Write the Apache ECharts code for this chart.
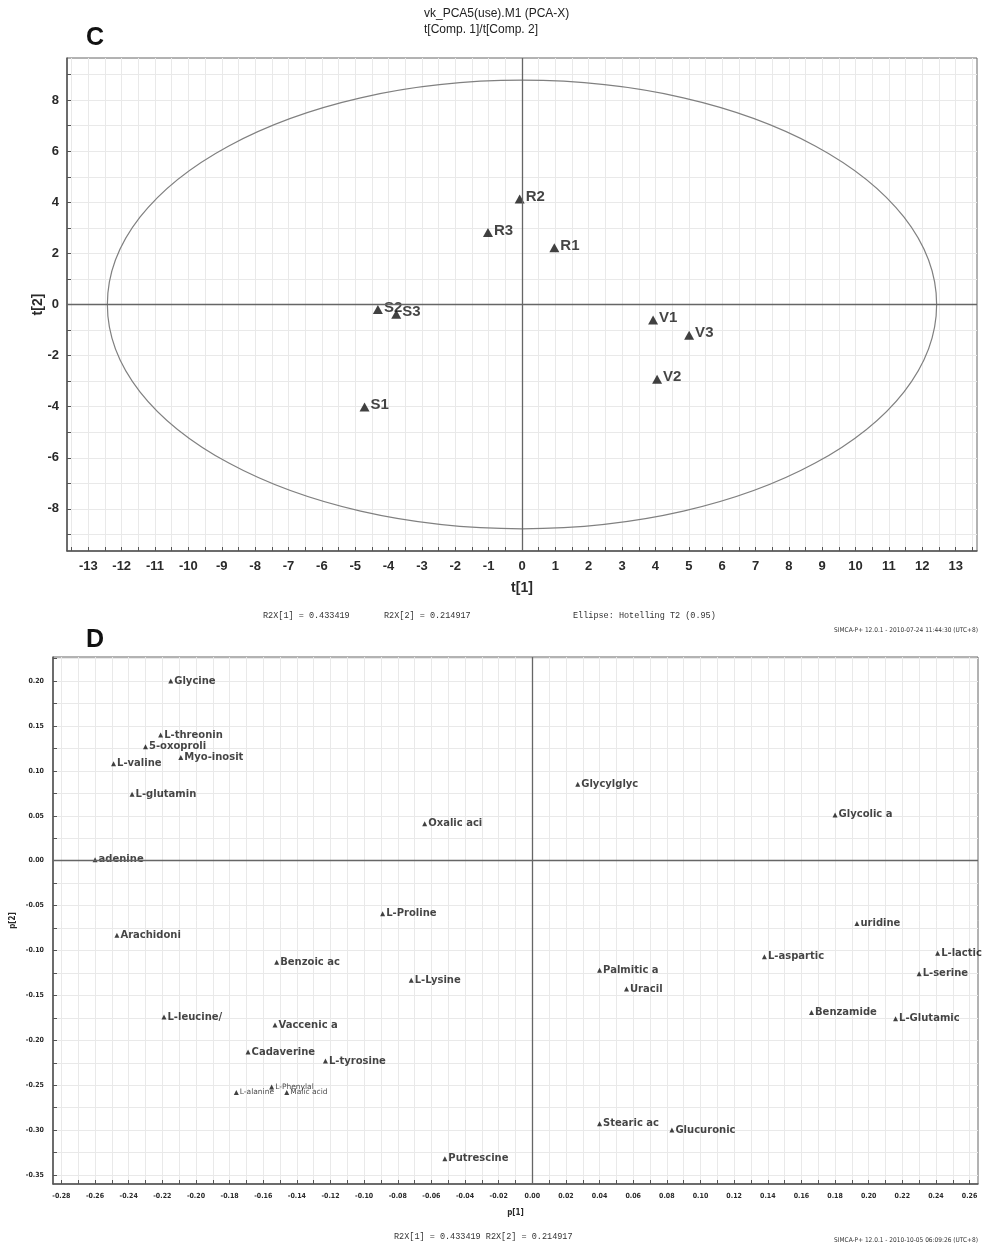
<!DOCTYPE html>
<html>
<head>
<meta charset="utf-8">
<script src="https://cdn.jsdelivr.net/npm/echarts@6/dist/echarts.min.js"></script>
<style>
  html, body { margin: 0; background: #fff; }
  #chart { width: 983px; height: 1250px; }
</style>
</head>
<body>
<div id="chart"></div>
<script>
const chart = echarts.init(document.getElementById("chart"));

// ==========================
// DATA  (C: score plot, D: loading plot)
// ==========================

const SCORE_NAMES = ["R1", "R2", "R3", "S1", "S2", "S3", "V1", "V2", "V3"];
const SCORE_T1 = [0.97, -0.07, -1.02, -4.72, -4.32, -3.77, 3.93, 4.05, 5.01];
const SCORE_T2 = [2.22, 4.13, 2.82, -4.01, -0.20, -0.38, -0.61, -2.93, -1.20];

// Hotelling T2 (0.95) ellipse, semi axes in t[1] / t[2] units
const ELLIPSE_AXES = [12.43, 8.78];

const C_X_LABELS = [-13, -12, -11, -10, -9, -8, -7, -6, -5, -4, -3, -2, -1, 0,
                    1, 2, 3, 4, 5, 6, 7, 8, 9, 10, 11, 12, 13];
const C_Y_LABELS = [-8, -6, -4, -2, 0, 2, 4, 6, 8];

const LOAD_NAMES = [
  "Glycine", "L-threonin", "5-oxoproli", "L-valine", "Myo-inosit", "L-glutamin",
  "adenine", "Oxalic aci", "Glycylglyc", "Glycolic a", "L-Proline", "Arachidoni",
  "uridine", "Benzoic ac", "L-Lysine", "L-aspartic", "L-lactic", "Palmitic a",
  "L-serine", "Uracil", "L-leucine/", "Vaccenic a", "Benzamide", "L-Glutamic",
  "Cadaverine", "L-tyrosine", "L-Phenylal", "L-alanine", "Malic acid",
  "Stearic ac", "Glucuronic", "Putrescine"
];
const LOAD_P1 = [
  -0.215, -0.221, -0.230, -0.249, -0.209, -0.238,
  -0.260, -0.064, 0.027, 0.180, -0.089, -0.247,
  0.193, -0.152, -0.072, 0.138, 0.241, 0.040,
  0.230, 0.056, -0.219, -0.153, 0.166, 0.216,
  -0.169, -0.123, -0.155, -0.176, -0.146,
  0.040, 0.083, -0.052
];
const LOAD_P2 = [
  0.200, 0.140, 0.127, 0.108, 0.115, 0.074,
  0.001, 0.041, 0.085, 0.051, -0.059, -0.083,
  -0.070, -0.113, -0.133, -0.107, -0.103, -0.122,
  -0.126, -0.143, -0.174, -0.183, -0.169, -0.176,
  -0.213, -0.223, -0.252, -0.258, -0.258,
  -0.293, -0.300, -0.332
];

const D_X_LABELS = [-0.28, -0.26, -0.24, -0.22, -0.20, -0.18, -0.16, -0.14, -0.12,
                    -0.10, -0.08, -0.06, -0.04, -0.02, 0.00, 0.02, 0.04, 0.06,
                    0.08, 0.10, 0.12, 0.14, 0.16, 0.18, 0.20, 0.22, 0.24, 0.26];
const D_Y_LABELS = [-0.35, -0.30, -0.25, -0.20, -0.15, -0.10, -0.05, 0.00,
                    0.05, 0.10, 0.15, 0.20];

// labels squeezed into a smaller font in the original
const SMALL_LABELS = ["L-Phenylal", "L-alanine", "Malic acid"];

// ==========================
// HELPERS
// ==========================

function steps(from, to, step) {
  const out = [];
  for (let v = from; v <= to + step / 2; v += step) {
    out.push(Math.round(v * 10000) / 10000);
  }
  return out;
}

function axis(o) {
  return {
    type: "value",
    gridIndex: o.grid,
    min: o.min,
    max: o.max,
    name: o.name,
    nameLocation: "middle",
    nameGap: o.nameGap,
    nameMoveOverlap: false,
    nameTextStyle: o.nameStyle,
    axisLine: { show: true, onZero: false, lineStyle: { color: "#555", width: 1.5 } },
    axisTick: {
      show: true, inside: true, length: 4,
      customValues: o.ticks,
      lineStyle: { color: "#555", width: 1 }
    },
    axisLabel: Object.assign({
      customValues: o.labels,
      margin: o.margin,
      formatter: o.fmt
    }, o.labelStyle),
    splitLine: { show: true, lineStyle: { color: "#e9e9e9", width: 1 } }
  };
}

const zeroLines = {
  silent: true,
  symbol: "none",
  label: { show: false },
  lineStyle: { color: "#666", width: 1.3, type: "solid" },
  emphasis: { disabled: true },
  data: [{ xAxis: 0 }, { yAxis: 0 }]
};

const scoreData = SCORE_T1.map((x, i) => ({ name: SCORE_NAMES[i], value: [x, SCORE_T2[i]] }));
const loadData = LOAD_P1.map((x, i) => {
  const item = { name: LOAD_NAMES[i], value: [x, LOAD_P2[i]] };
  if (SMALL_LABELS.includes(LOAD_NAMES[i])) item.label = { fontSize: 7.5, fontWeight: "normal" };
  return item;
});

const cTick = { fontFamily: "Liberation Sans", fontSize: 13, fontWeight: "bold", color: "#2a2a2a" };
const dTick = { fontFamily: "DejaVu Sans Condensed", fontSize: 7, fontWeight: "bold", color: "#2a2a2a" };
const mono = { fontFamily: "Liberation Mono", fontSize: 8.5, fill: "#333" };
const stamp = { fontFamily: "DejaVu Sans Condensed", fontSize: 6.5, fill: "#333" };

// ==========================
// CHART
// ==========================

chart.setOption({
  animation: false,
  backgroundColor: "#fff",

  grid: [
    { left: 67, right: 6, top: 58, height: 493, show: true, borderColor: "#666", borderWidth: 1, outerBoundsMode: "none" },
    { left: 53, right: 5, top: 657, height: 527, show: true, borderColor: "#666", borderWidth: 1, outerBoundsMode: "none" }
  ],

  xAxis: [
    axis({
      grid: 0, min: -13.64, max: 13.64,
      ticks: steps(-13.5, 13.5, 0.5), labels: C_X_LABELS,
      margin: 9, labelStyle: cTick,
      name: "t[1]", nameGap: 30,
      nameStyle: { fontFamily: "Liberation Sans", fontSize: 14, fontWeight: "bold", color: "#2a2a2a" }
    }),
    axis({
      grid: 1, min: -0.285, max: 0.265,
      ticks: steps(-0.28, 0.26, 0.01), labels: D_X_LABELS,
      margin: 9, labelStyle: dTick, fmt: v => v.toFixed(2),
      name: "p[1]", nameGap: 25,
      nameStyle: { fontFamily: "DejaVu Sans Condensed", fontSize: 8, fontWeight: "bold", color: "#2a2a2a" }
    })
  ],

  yAxis: [
    axis({
      grid: 0, min: -9.65, max: 9.65,
      ticks: steps(-9, 9, 1), labels: C_Y_LABELS,
      margin: 8, labelStyle: cTick,
      name: "t[2]", nameGap: 22,
      nameStyle: { fontFamily: "Liberation Sans", fontSize: 14, fontWeight: "bold", color: "#2a2a2a" }
    }),
    axis({
      grid: 1, min: -0.36, max: 0.2268,
      ticks: steps(-0.35, 0.225, 0.025), labels: D_Y_LABELS,
      margin: 9, labelStyle: dTick, fmt: v => v.toFixed(2),
      name: "p[2]", nameGap: 36,
      nameStyle: { fontFamily: "DejaVu Sans Condensed", fontSize: 8, fontWeight: "bold", color: "#2a2a2a" }
    })
  ],

  series: [
    {
      type: "custom",
      xAxisIndex: 0,
      yAxisIndex: 0,
      silent: true,
      z: 1,
      data: [[0, 0]],
      renderItem: (params, api) => {
        const c = api.coord([api.value(0), api.value(1)]);
        const s = api.size(ELLIPSE_AXES);
        return {
          type: "ellipse",
          shape: { cx: c[0], cy: c[1], rx: s[0], ry: s[1] },
          style: { fill: "none", stroke: "#808080", lineWidth: 1.2 }
        };
      }
    },
    {
      type: "scatter",
      xAxisIndex: 0,
      yAxisIndex: 0,
      symbol: "triangle",
      symbolSize: [10, 9],
      itemStyle: { color: "#111" },
      label: {
        show: true,
        position: "right",
        distance: 1,
        offset: [0, -2],
        formatter: p => p.name,
        fontFamily: "Liberation Sans",
        fontSize: 15,
        fontWeight: "bold",
        color: "#151515"
      },
      markLine: zeroLines,
      data: scoreData,
      z: 3
    },
    {
      type: "scatter",
      xAxisIndex: 1,
      yAxisIndex: 1,
      symbol: "triangle",
      symbolSize: [5, 5],
      itemStyle: { color: "#111" },
      label: {
        show: true,
        position: "right",
        distance: 1,
        formatter: p => p.name,
        fontFamily: "DejaVu Sans",
        fontSize: 10,
        fontWeight: "bold",
        color: "#151515"
      },
      markLine: zeroLines,
      data: loadData,
      z: 3
    }
  ],

  graphic: [
    { type: "text", left: 86, top: 26, style: { text: "C", fontFamily: "Liberation Sans", fontSize: 25, fontWeight: "bold", fill: "#111" } },
    { type: "text", left: 424, top: 8, style: { text: "vk_PCA5(use).M1 (PCA-X)", fontFamily: "Liberation Sans", fontSize: 12, fill: "#222" } },
    { type: "text", left: 424, top: 24, style: { text: "t[Comp. 1]/t[Comp. 2]", fontFamily: "Liberation Sans", fontSize: 12, fill: "#222" } },
    { type: "text", left: 263, top: 611, style: Object.assign({ text: "R2X[1] = 0.433419" }, mono) },
    { type: "text", left: 384, top: 611, style: Object.assign({ text: "R2X[2] = 0.214917" }, mono) },
    { type: "text", left: 573, top: 611, style: Object.assign({ text: "Ellipse: Hotelling T2 (0.95)" }, mono) },
    { type: "text", right: 5, top: 627, style: Object.assign({ text: "SIMCA-P+ 12.0.1 - 2010-07-24 11:44:30 (UTC+8)" }, stamp) },
    { type: "text", left: 86, top: 628, style: { text: "D", fontFamily: "Liberation Sans", fontSize: 25, fontWeight: "bold", fill: "#111" } },
    { type: "text", left: 394, top: 1232, style: Object.assign({ text: "R2X[1] = 0.433419 R2X[2] = 0.214917" }, mono) },
    { type: "text", right: 5, top: 1237, style: Object.assign({ text: "SIMCA-P+ 12.0.1 - 2010-10-05 06:09:26 (UTC+8)" }, stamp) }
  ]
});
</script>
</body>
</html>
